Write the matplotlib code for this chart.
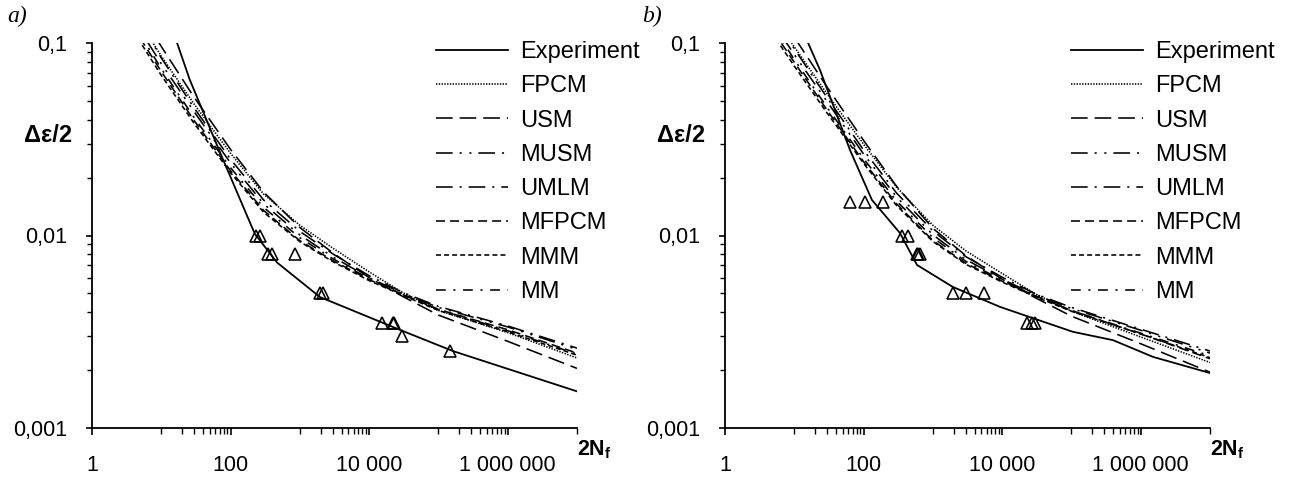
import matplotlib
matplotlib.use('Agg')
import matplotlib.pyplot as plt
from matplotlib.ticker import FixedLocator, FixedFormatter, NullFormatter

plt.rcParams['font.family'] = ['Liberation Sans', 'DejaVu Sans']
plt.rcParams['lines.scale_dashes'] = False
plt.rcParams['mathtext.fontset'] = 'custom'
plt.rcParams['mathtext.bf'] = 'Liberation Sans:bold'
plt.rcParams['mathtext.rm'] = 'Liberation Sans'

# ---------------- data ----------------
N_model = [3, 10, 30, 100, 300, 1000, 3000, 1e4, 3e4, 1e5, 1e6, 1e7]

a_FPCM = [0.170, 0.0855, 0.0480, 0.0267, 0.0164, 0.0113, 0.00859, 0.00647, 0.00507, 0.00408, 0.00313, 0.00231]
a_USM = [0.195, 0.0959, 0.0520, 0.0280, 0.0168, 0.0110, 0.00811, 0.00604, 0.00484, 0.00386, 0.00282, 0.00204]
a_MUSM = [0.155, 0.0780, 0.0438, 0.0238, 0.0146, 0.01007, 0.00774, 0.00604, 0.00501, 0.00423, 0.00335, 0.00256]
a_UMLM = [0.174, 0.0836, 0.0458, 0.0249, 0.0153, 0.0105, 0.00802, 0.00618, 0.00507, 0.00428, 0.00339, 0.0026]
a_MFPCM = [0.141, 0.0711, 0.0394, 0.0217, 0.0135, 0.0094, 0.0074, 0.0059, 0.00495, 0.00413, 0.00324, 0.00245]
a_MMM = [0.135, 0.0679, 0.0381, 0.0212, 0.0132, 0.00929, 0.00731, 0.00583, 0.0049, 0.00408, 0.00316, 0.00239]
a_MM = [0.148, 0.0736, 0.0408, 0.0225, 0.014, 0.00973, 0.00757, 0.00597, 0.00495, 0.00413, 0.0032, 0.00242]

a_exp_N = [16, 25.7, 70.8, 174, 224, 468, 1950, 9330, 27500, 162000, 1e7]
a_exp_eps = [0.106, 0.0646, 0.0269, 0.0126, 0.0102, 0.00724, 0.00479, 0.0038, 0.00324, 0.00251, 0.00155]

a_tri_N = [230, 270, 350, 390, 850, 1950, 2150, 15200, 22000, 23000, 29600, 147000]
a_tri_eps = [0.01, 0.01, 0.008, 0.008, 0.008, 0.005, 0.005, 0.0035, 0.0035, 0.0035, 0.003, 0.0025]

b_FPCM = [0.182, 0.0955, 0.0542, 0.0298, 0.0178, 0.0113, 0.00832, 0.00635, 0.00498, 0.00404, 0.00297, 0.00219]
b_USM = [0.209, 0.1072, 0.0588, 0.0312, 0.0180, 0.0109, 0.00785, 0.00593, 0.00475, 0.00381, 0.00274, 0.00195]
b_MUSM = [0.166, 0.0871, 0.0494, 0.0265, 0.01585, 0.01009, 0.0075, 0.00593, 0.00492, 0.00418, 0.00322, 0.00245]
b_UMLM = [0.186, 0.0933, 0.0518, 0.0278, 0.0166, 0.01057, 0.00776, 0.00607, 0.00498, 0.00423, 0.00326, 0.00251]
b_MFPCM = [0.151, 0.0794, 0.0446, 0.0242, 0.0146, 0.00942, 0.00716, 0.00579, 0.00486, 0.00408, 0.00308, 0.00229]
b_MMM = [0.1445, 0.0759, 0.0431, 0.0237, 0.0143, 0.00931, 0.00708, 0.00573, 0.00481, 0.00404, 0.00308, 0.00232]
b_MM = [0.1585, 0.0822, 0.0461, 0.0251, 0.0151, 0.00975, 0.00733, 0.00586, 0.00486, 0.00408, 0.00311, 0.00237]

b_exp_N = [14.1, 23.5, 38.6, 63.7, 132, 335, 590, 1950, 9290, 27800, 105000, 398000, 1510000, 1e7]
b_exp_eps = [0.11, 0.0724, 0.0449, 0.0278, 0.0153, 0.0103, 0.00703, 0.0054, 0.00426, 0.00372, 0.00316, 0.00286, 0.00234, 0.00193]

b_tri_N = [63, 105, 190, 357, 437, 600, 620, 650, 1950, 3000, 5400, 22700, 27000, 29500]
b_tri_eps = [0.015, 0.015, 0.015, 0.01, 0.01, 0.008, 0.008, 0.008, 0.005, 0.005, 0.005, 0.0035, 0.0035, 0.0035]

model_names = ['FPCM', 'USM', 'MUSM', 'UMLM', 'MFPCM', 'MMM', 'MM']
x_major = [1, 100, 1e4, 1e6]
x_major_labels = ['1', '100', '10 000', '1 000 000']
x_minor = [10 * k for k in range(1, 10)] + [1000 * k for k in range(1, 10)] + [1e5 * k for k in range(1, 10)] + [1e7]
y_major = [0.001, 0.01, 0.1]
y_major_labels = ['0,001', '0,01', '0,1']
y_minor = [0.001 * k for k in range(2, 10)] + [0.01 * k for k in range(2, 10)]

# ---------------- styles ----------------
styles = {
    'FPCM': (0, (1.0, 1.0)),
    'USM': (0, (12, 5)),
    'MUSM': (0, (12, 5, 1.5, 5.5, 1.5, 5)),
    'UMLM': (0, (12, 5, 1.5, 5)),
    'MFPCM': (0, (6.5, 3.6)),
    'MMM': (0, (3.6, 2.2)),
    'MM': (0, (7, 5.5, 1.5, 5.5)),
}

fig = plt.figure(figsize=(12.89, 4.79), dpi=100)
W, H = 1289.0, 479.0

panels = [
    dict(left=92, models=[a_FPCM, a_USM, a_MUSM, a_UMLM, a_MFPCM, a_MMM, a_MM],
         expN=a_exp_N, expE=a_exp_eps, triN=a_tri_N, triE=a_tri_eps,
         leg_x=436, tag='a)', tag_x=7),
    dict(left=725, models=[b_FPCM, b_USM, b_MUSM, b_UMLM, b_MFPCM, b_MMM, b_MM],
         expN=b_exp_N, expE=b_exp_eps, triN=b_tri_N, triE=b_tri_eps,
         leg_x=1071, tag='b)', tag_x=642),
]

for p in panels:
    ax = fig.add_axes([p['left'] / W, 51 / H, 485 / W, 385 / H])
    ax.set_xscale('log')
    ax.set_yscale('log')
    handles = []
    for name, vals in zip(model_names, p['models']):
        ln, = ax.plot(N_model, vals, color='black', lw=1.15, linestyle=styles[name],
                      label=name)
        handles.append(ln)
    exp_ln, = ax.plot(p['expN'], p['expE'], color='black', lw=1.3, linestyle='-',
                      label='Experiment')
    ax.plot(p['triN'], p['triE'], linestyle='none', marker='^', ms=8,
            mfc='none', mec='black', mew=1.15)
    ax.set_xlim(1, 1e7)
    ax.set_ylim(0.001, 0.1)
    for s in ['top', 'right']:
        ax.spines[s].set_visible(False)
    for s in ['left', 'bottom']:
        ax.spines[s].set_linewidth(1.3)
    ax.xaxis.set_major_locator(FixedLocator(x_major))
    ax.xaxis.set_major_formatter(FixedFormatter(x_major_labels))
    ax.xaxis.set_minor_locator(FixedLocator(x_minor))
    ax.xaxis.set_minor_formatter(NullFormatter())
    ax.yaxis.set_major_locator(FixedLocator(y_major))
    ax.yaxis.set_major_formatter(FixedFormatter(y_major_labels))
    ax.yaxis.set_minor_locator(FixedLocator(y_minor))
    ax.yaxis.set_minor_formatter(NullFormatter())
    ax.tick_params(axis='x', which='major', direction='out', length=5, width=1.2,
                   pad=14.5, labelsize=15.5)
    ax.tick_params(axis='x', which='minor', direction='out', length=4, width=1.0)
    ax.tick_params(axis='y', which='major', direction='out', length=4, width=1.2,
                   pad=14, labelsize=15.5)
    ax.tick_params(axis='y', which='minor', direction='out', length=3.5, width=1.0)

    ax.text(-0.04, 0.742, 'Δε/2', transform=ax.transAxes, ha='right', va='baseline',
            fontsize=17, fontweight='bold')
    ax.text(1.0, -0.07, r'$\mathbf{2N_f}$', transform=ax.transAxes, ha='left',
            va='baseline', fontsize=15.5)

    leg = ax.legend([exp_ln] + handles, ['Experiment'] + model_names,
                    loc='upper left',
                    bbox_to_anchor=(p['leg_x'] / W, 1 - 41 / H),
                    bbox_transform=fig.transFigure, frameon=False, fontsize=17,
                    handlelength=3.05, handletextpad=0.5, labelspacing=0.52,
                    borderpad=0, borderaxespad=0)

    fig.text(p['tag_x'] / W, 1 - 6 / H, p['tag'], ha='left', va='top',
             fontsize=17, fontstyle='italic', family=['Liberation Serif', 'DejaVu Serif'])

fig.savefig('out.png', dpi=100)
